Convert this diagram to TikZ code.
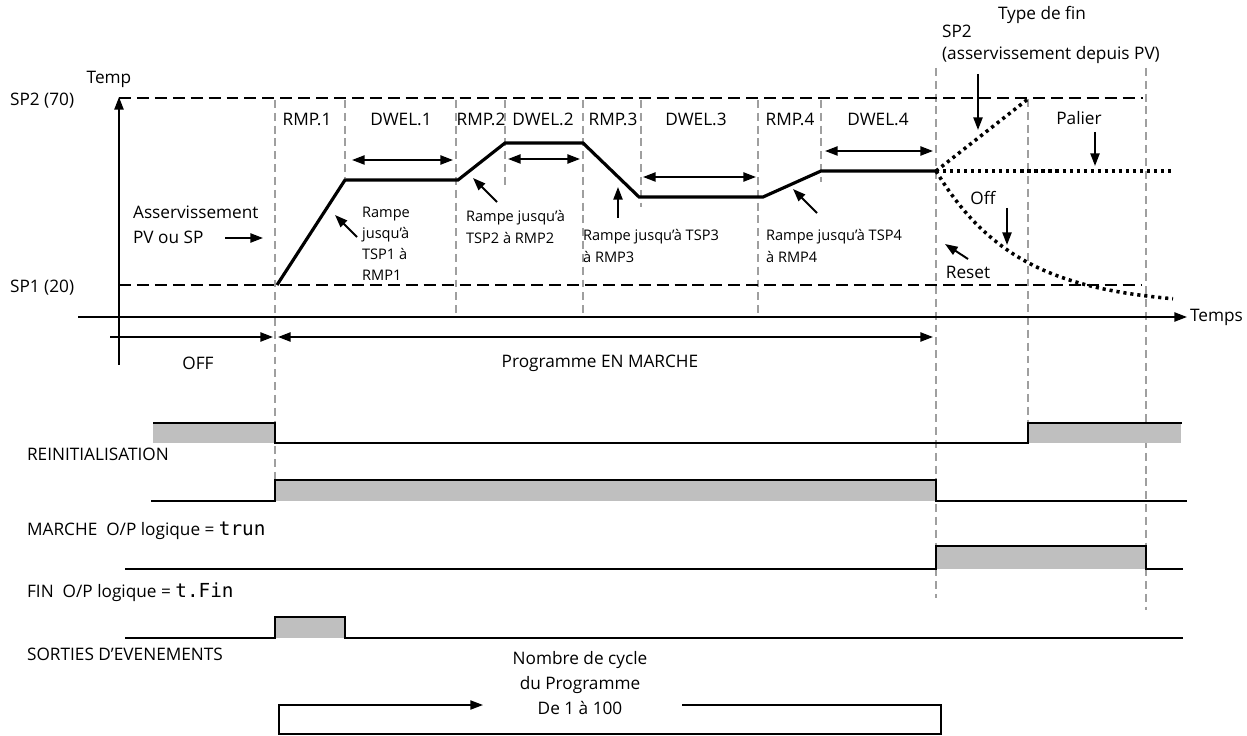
\documentclass[tikz,border=0pt]{standalone}
\usepackage{fontspec}
\setmainfont{Open Sans}
\newfontfamily\segfont{DejaVu Sans Mono}
\usetikzlibrary{arrows.meta}

\begin{document}
\begin{tikzpicture}[x=0.02cm,y=-0.02cm,
    sig/.style={line width=1.6pt,line join=miter},
    prof/.style={line width=1.8pt,line join=miter},
    axe/.style={line width=1.1pt},
    niveau/.style={line width=0.9pt,dash pattern=on 6.8pt off 3.4pt},
    grille/.style={gray!75,line width=0.8pt,dash pattern=on 4.5pt off 2.8pt},
    finpt/.style={line width=2pt,dash pattern=on 1.8pt off 2.2pt},
    fl/.style={-{Triangle[length=7.2pt,width=5.2pt]},line width=1.1pt},
    dfl/.style={{Triangle[length=7.2pt,width=5.2pt]}-{Triangle[length=7.2pt,width=5.2pt]},line width=1.1pt},
    lab/.style={font=\fontsize{9.8}{12}\selectfont,inner sep=1pt},
    note/.style={font=\fontsize{8.3}{12}\selectfont,align=left,inner sep=1pt},
    haut/.style={fill=gray!50,draw=none}]
  \useasboundingbox (0,0) rectangle (1247,736);
  % grid
  \draw[grille] (275,100) -- (275,480);
  \draw[grille] (345,100) -- (345,177);
  \draw[grille] (456,100) -- (456,317);
  \draw[grille] (505,100) -- (505,185);
  \draw[grille] (583,100) -- (583,317);
  \draw[grille] (641,100) -- (641,207);
  \draw[grille] (758,100) -- (758,317);
  \draw[grille] (821,100) -- (821,182);
  \draw[grille] (936,68) -- (936,598);
  \draw[grille] (1028,99) -- (1028,423);
  \draw[grille] (1146,68) -- (1146,610);
  % levels
  \draw[niveau] (119,98) -- (1143,98);
  \draw[niveau] (119,285) -- (1142,285);
  \node[lab,anchor=west] (sp2) at (8,101) {SP2 (70)};
  \node[lab,anchor=west] (sp1) at (8,288) {SP1 (20)};
  % axes
  \draw[fl] (119,365) -- (119,97);
  \node[lab] (temp) at (109,79) {Temp};
  \draw[fl] (78,317) -- (1187,317);
  \node[lab,anchor=west] (temps) at (1188,317) {Temps};
  % segments
  \node[lab] (r1) at (307,119) {RMP.1};
  \node[lab] (d1) at (401,119) {DWEL.1};
  \node[lab] (r2) at (481,119) {RMP.2};
  \node[lab] (d2) at (543,119) {DWEL.2};
  \node[lab] (r3) at (613,119) {RMP.3};
  \node[lab] (d3) at (696,119) {DWEL.3};
  \node[lab] (r4) at (790,119) {RMP.4};
  \node[lab] (d4) at (878,119) {DWEL.4};
  \draw[dfl] (352,160) -- (453,160);
  \draw[dfl] (508,159) -- (580,159);
  \draw[dfl] (643,177) -- (756,177);
  \draw[dfl] (825,151) -- (933,151);
  % profile
  \draw[prof] (277,285) -- (345,180) -- (458,180) -- (505,143) -- (583,143)
    -- (639,197) -- (763,197) -- (821,171) -- (936,171);
  % end types
  \draw[finpt] (936,171) -- (1028,99);
  \draw[finpt] (936,171) -- (1173,171);
  \draw[finpt] plot[domain=0:237,samples=50] ({936+\x},{171+135*(1-exp(-\x/81))});
  \node[lab] (typefin) at (1042,15) {Type de fin};
  \node[lab,anchor=west] (fsp2) at (940,31) {SP2};
  \node[lab,anchor=west] (fasv) at (940,55) {(asservissement depuis PV)};
  \draw[fl] (978,74) -- (978,130);
  \node[lab] (palier) at (1079,118) {Palier};
  \draw[fl] (1095,132) -- (1095,166);
  \node[lab] (off) at (983,198) {Off};
  \draw[fl] (1007,208) -- (1007,245);
  \node[lab] (reset) at (968,272) {Reset};
  \draw[fl] (968,259) -- (945,244);
  % notes
  \node[lab,align=left,anchor=west,font=\fontsize{9.8}{14.2}\selectfont] (asv) at (131,225) {Asservissement\\PV ou SP};
  \draw[fl] (225,238) -- (263,238);
  \node[note,anchor=west] (n1) at (360,244) {Rampe\\jusqu'à\\TSP1 à\\RMP1};
  \draw[fl] (357,237) -- (335,215);
  \node[note,anchor=west] (n2) at (464,227) {Rampe jusqu'à\\TSP2 à RMP2};
  \draw[fl] (497,202) -- (473,178);
  \node[note,anchor=west] (n3) at (581,246) {Rampe jusqu'à TSP3\\à RMP3};
  \draw[fl] (618,218) -- (618,187);
  \node[note,anchor=west] (n4) at (764,246) {Rampe jusqu'à TSP4\\à RMP4};
  \draw[fl] (817,213) -- (793,189);
  % run / off
  \draw[fl] (110,337) -- (273,337);
  \draw[dfl] (278,337) -- (933,337);
  \node[lab] (offtxt) at (198,363) {OFF};
  \node[lab] (prog) at (600,363) {Programme EN MARCHE};
  % reset signal
  \fill[haut] (153,423) rectangle (275,443);
  \fill[haut] (1028,423) rectangle (1181,443);
  \draw[sig] (153,423) -- (275,423) -- (275,443) -- (1028,443) -- (1028,423) -- (1182,423);
  \node[lab,anchor=west] (reinit) at (25,454) {REINITIALISATION};
  % run signal
  \fill[haut] (275,480) rectangle (936,501);
  \draw[sig] (151,501) -- (275,501) -- (275,480) -- (936,480) -- (936,501) -- (1187,501);
  \node[lab,anchor=west] (marche) at (25,531) {MARCHE\ \ O/P logique = {\segfont\fontsize{11}{12}\selectfont trun}};
  % end signal
  \fill[haut] (936,546) rectangle (1146,569);
  \draw[sig] (125,569) -- (936,569) -- (936,546) -- (1146,546) -- (1146,569) -- (1183,569);
  \node[lab,anchor=west] (fin) at (25,592) {FIN\ \ O/P logique = {\segfont\fontsize{11}{12}\selectfont t.Fin}};
  % event output
  \fill[haut] (275,617) rectangle (345,638);
  \draw[sig] (125,638) -- (275,638) -- (275,617) -- (345,617) -- (345,638) -- (1183,638);
  \node[lab,anchor=west] (evt) at (25,654) {SORTIES D'EVENEMENTS};
  % cycles
  \node[lab,align=center,font=\fontsize{9.8}{14.2}\selectfont] (cycle) at (580,683) {Nombre de cycle\\du Programme\\De 1 à 100};
  \draw[fl,line width=0.9pt] (682,705) -- (941,705) -- (941,734) -- (279,734) -- (279,705) -- (483,705);
\end{tikzpicture}
\end{document}
